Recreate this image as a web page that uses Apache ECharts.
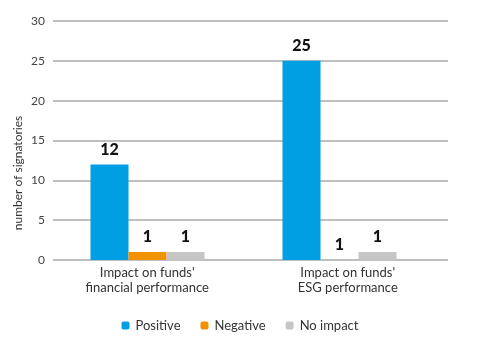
<!DOCTYPE html>
<html><head><meta charset="utf-8">
<script src="https://cdn.jsdelivr.net/npm/echarts@6/dist/echarts.min.js"></script>
<style>html,body{margin:0;padding:0;background:#fff}#c{width:480px;height:351px}</style>
</head><body><div id="c"></div>
<script>
const categories = ["Impact on funds'\nfinancial performance", "Impact on funds'\nESG performance"];
const positive = [12, 25];
const negative = [1, 0];
const negativeLabels = ['1', '1'];
const noImpact = [1, 1];
const yTicks = [0, 5, 10, 15, 20, 25, 30];
const yTitle = 'number of signatories';

const chart = echarts.init(document.getElementById('c'));
const yMin = yTicks[0], yMax = yTicks[yTicks.length - 1], yStep = yTicks[1] - yTicks[0];
const labelStyle = {show: true, position: 'top', distance: 7, fontFamily: 'Lato', fontWeight: 900, fontSize: 16, color: '#111'};
const barW = 38;
chart.setOption({
  animation: false,
  grid: [
    {left: 53, right: 32, top: 21, bottom: 91},
    {left: 51.5, right: 44.5, top: 21, bottom: 91},
    {left: 47, right: 32, top: 21, bottom: 91}
  ],
  legend: {
    bottom: 14, left: 'center', itemWidth: 8, itemHeight: 8, itemGap: 20,
    textStyle: {fontFamily: 'Lato', fontSize: 13, color: '#333', padding: [0, 0, 0, 1]},
    data: ['Positive', 'Negative', 'No impact']
  },
  graphic: [{
    type: 'text', rotation: Math.PI / 2,
    position: [18, 173],
    style: {text: yTitle, fontFamily: 'Lato', fontSize: 12, fill: '#333', textAlign: 'center', textVerticalAlign: 'middle'}
  }],
  xAxis: [
    {gridIndex: 0, type: 'category', data: categories, show: false},
    {gridIndex: 1, type: 'category', data: categories, axisLine: {show: false}, axisTick: {show: false}, axisLabel: {show: false}},
    {gridIndex: 2, type: 'category', data: categories, axisLine: {show: false}, axisTick: {show: false},
      axisLabel: {margin: 5, fontFamily: 'Lato', fontSize: 13, color: '#333', lineHeight: 15}}
  ],
  yAxis: [
    {gridIndex: 0, type: 'value', min: yMin, max: yMax, interval: yStep,
      axisLine: {show: false}, axisTick: {show: false},
      axisLabel: {margin: 8, fontFamily: 'Lato', fontSize: 12, color: '#444'},
      splitLine: {lineStyle: {color: '#aaaaaa', width: 1.5}}},
    {gridIndex: 1, type: 'value', min: yMin, max: yMax, interval: yStep, show: false, splitLine: {show: false}},
    {gridIndex: 2, type: 'value', min: yMin, max: yMax, interval: yStep, show: false, splitLine: {show: false}}
  ],
  series: [
    {name: 'Positive', type: 'bar', xAxisIndex: 1, yAxisIndex: 1, data: positive, barWidth: barW, barGap: '0%',
      itemStyle: {color: '#009FE3'}, label: labelStyle},
    {name: 'Negative', type: 'bar', xAxisIndex: 1, yAxisIndex: 1, data: negative, barWidth: barW, barGap: '0%',
      itemStyle: {color: '#F39200'},
      label: Object.assign({}, labelStyle, {formatter: p => negativeLabels[p.dataIndex]})},
    {name: 'No impact', type: 'bar', xAxisIndex: 1, yAxisIndex: 1, data: noImpact, barWidth: barW, barGap: '0%',
      itemStyle: {color: '#C6C6C6'}, label: labelStyle}
  ]
});
</script></body></html>
